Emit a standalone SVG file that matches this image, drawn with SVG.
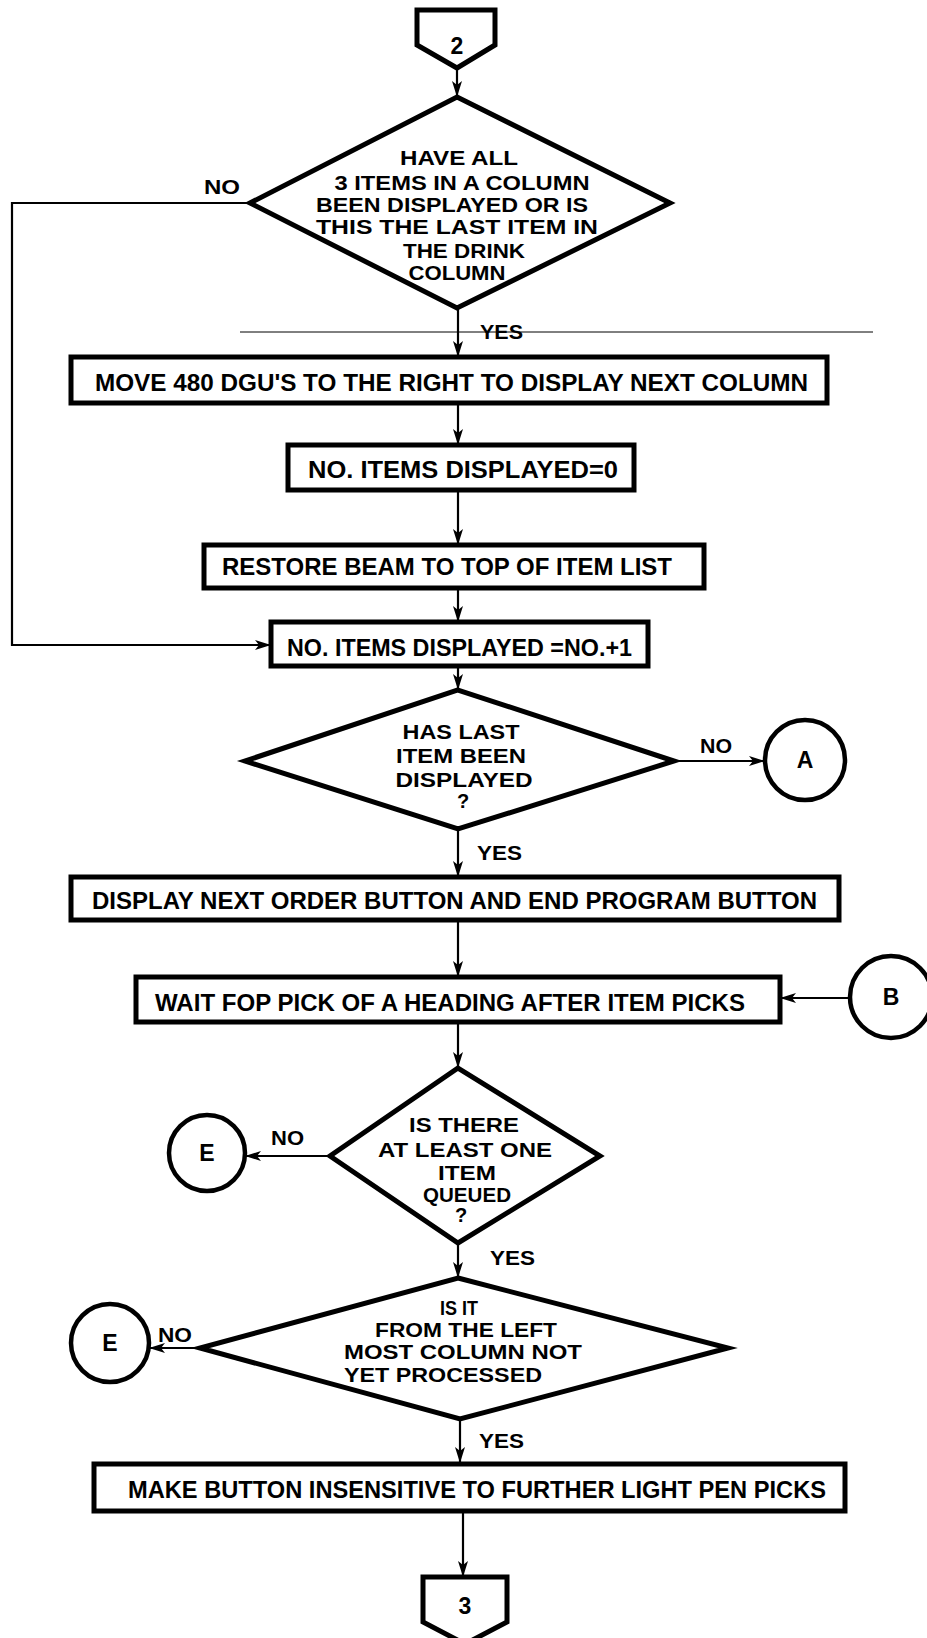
<svg xmlns="http://www.w3.org/2000/svg" width="927" height="1638" viewBox="0 0 927 1638">
<defs>
<style>
.box{fill:#fff;stroke:#000;stroke-width:5}
.dia{fill:#fff;stroke:#000;stroke-width:5;stroke-linejoin:miter}
.circ{fill:#fff;stroke:#000;stroke-width:4.5}
.con{fill:none;stroke:#000;stroke-width:2.2}
.t{font-family:"Liberation Sans",Arial,sans-serif;font-weight:bold;font-size:23px;fill:#000}
.d{font-family:"Liberation Sans",Arial,sans-serif;font-weight:bold;font-size:20px;fill:#000;text-anchor:middle}
.c{font-family:"Liberation Sans",Arial,sans-serif;font-weight:bold;font-size:23px;fill:#000;text-anchor:middle}
.lbl{font-family:"Liberation Sans",Arial,sans-serif;font-weight:bold;font-size:20px;fill:#000}
</style>
<marker id="ah" viewBox="0 0 16 10" refX="15" refY="5" markerWidth="16" markerHeight="10" markerUnits="userSpaceOnUse" orient="auto">
<path d="M0,0 L16,5 L0,10 L4,5 z" fill="#000"/>
</marker>
</defs>

<g id="connectors">
<line class="con" x1="457" y1="68" x2="457" y2="96" marker-end="url(#ah)"/>
<line class="con" x1="458" y1="308" x2="458" y2="356" marker-end="url(#ah)"/>
<line class="con" x1="458" y1="403" x2="458" y2="444" marker-end="url(#ah)"/>
<line class="con" x1="458" y1="490" x2="458" y2="544" marker-end="url(#ah)"/>
<line class="con" x1="458" y1="588" x2="458" y2="621" marker-end="url(#ah)"/>
<path class="con" d="M250,203 H12 V645 H270" marker-end="url(#ah)"/>
<line class="con" x1="458" y1="666" x2="458" y2="689" marker-end="url(#ah)"/>
<line class="con" x1="674" y1="761" x2="764" y2="761" marker-end="url(#ah)"/>
<line class="con" x1="458" y1="829" x2="458" y2="876" marker-end="url(#ah)"/>
<line class="con" x1="458" y1="920" x2="458" y2="976" marker-end="url(#ah)"/>
<line class="con" x1="850" y1="998" x2="781" y2="998" marker-end="url(#ah)"/>
<line class="con" x1="458" y1="1022" x2="458" y2="1067" marker-end="url(#ah)"/>
<line class="con" x1="330" y1="1156" x2="246" y2="1156" marker-end="url(#ah)"/>
<line class="con" x1="458" y1="1243" x2="458" y2="1277" marker-end="url(#ah)"/>
<line class="con" x1="200" y1="1348" x2="150" y2="1348" marker-end="url(#ah)"/>
<line class="con" x1="460" y1="1419" x2="460" y2="1462" marker-end="url(#ah)"/>
<line class="con" x1="463" y1="1512" x2="463" y2="1576" marker-end="url(#ah)"/>
<line x1="240" y1="332" x2="873" y2="332" stroke="#000" stroke-width="1"/>
<text class="lbl" x="204" y="194" textLength="36" lengthAdjust="spacingAndGlyphs">NO</text>
<text class="lbl" x="480" y="339" textLength="43" lengthAdjust="spacingAndGlyphs">YES</text>
<text class="lbl" x="700" y="753" textLength="32" lengthAdjust="spacingAndGlyphs">NO</text>
<text class="lbl" x="477" y="860" textLength="45" lengthAdjust="spacingAndGlyphs">YES</text>
<text class="lbl" x="271" y="1145" textLength="33" lengthAdjust="spacingAndGlyphs">NO</text>
<text class="lbl" x="490" y="1265" textLength="45" lengthAdjust="spacingAndGlyphs">YES</text>
<text class="lbl" x="158" y="1342" textLength="34" lengthAdjust="spacingAndGlyphs">NO</text>
<text class="lbl" x="479" y="1448" textLength="45" lengthAdjust="spacingAndGlyphs">YES</text>
</g>

<g id="conn2">
<path class="box" d="M417,10 H495 V45 L457,68 L417,45 Z"/>
<text class="c" x="457" y="54">2</text>
</g>

<g id="dec1">
<polygon class="dia" points="457,97 670,203 457,308 250,203"/>
<text class="d" x="459" y="165" textLength="118" lengthAdjust="spacingAndGlyphs">HAVE ALL</text>
<text class="d" x="462" y="190" textLength="255" lengthAdjust="spacingAndGlyphs">3 ITEMS IN A COLUMN</text>
<text class="d" x="452" y="212" textLength="272" lengthAdjust="spacingAndGlyphs">BEEN DISPLAYED OR IS</text>
<text class="d" x="457" y="234" textLength="282" lengthAdjust="spacingAndGlyphs">THIS THE LAST ITEM IN</text>
<text class="d" x="464" y="258" textLength="122" lengthAdjust="spacingAndGlyphs">THE DRINK</text>
<text class="d" x="457" y="280" textLength="97" lengthAdjust="spacingAndGlyphs">COLUMN</text>
</g>

<g id="box1">
<rect class="box" x="71" y="357" width="756" height="46"/>
<text class="t" x="95" y="391" textLength="713" lengthAdjust="spacingAndGlyphs">MOVE 480 DGU'S  TO THE RIGHT TO DISPLAY NEXT COLUMN</text>
</g>

<g id="box2">
<rect class="box" x="288" y="445" width="346" height="45"/>
<text class="t" x="308" y="478" textLength="310" lengthAdjust="spacingAndGlyphs">NO. ITEMS DISPLAYED=0</text>
</g>

<g id="box3">
<rect class="box" x="204" y="545" width="500" height="43"/>
<text class="t" x="222" y="575" textLength="450" lengthAdjust="spacingAndGlyphs">RESTORE BEAM  TO TOP OF ITEM LIST</text>
</g>

<g id="box4">
<rect class="box" x="271" y="622" width="377" height="44"/>
<text class="t" x="287" y="656" textLength="345" lengthAdjust="spacingAndGlyphs">NO. ITEMS DISPLAYED =NO.+1</text>
</g>

<g id="dec2">
<polygon class="dia" points="458,690 674,761 458,829 245,761"/>
<text class="d" x="461" y="739" textLength="117" lengthAdjust="spacingAndGlyphs">HAS LAST</text>
<text class="d" x="461" y="763" textLength="130" lengthAdjust="spacingAndGlyphs">ITEM BEEN</text>
<text class="d" x="464" y="787" textLength="137" lengthAdjust="spacingAndGlyphs">DISPLAYED</text>
<text class="d" x="463" y="808">?</text>
</g>

<g id="circA">
<circle class="circ" cx="805" cy="760" r="40"/>
<text class="c" x="805" y="768">A</text>
</g>

<g id="box5">
<rect class="box" x="71" y="877" width="768" height="43"/>
<text class="t" x="92" y="909" textLength="725" lengthAdjust="spacingAndGlyphs">DISPLAY NEXT ORDER  BUTTON AND END PROGRAM BUTTON</text>
</g>

<g id="box6">
<rect class="box" x="136" y="977" width="644" height="45"/>
<text class="t" x="155" y="1011" textLength="590" lengthAdjust="spacingAndGlyphs">WAIT  FOP PICK OF  A HEADING AFTER ITEM PICKS</text>
</g>

<g id="circB">
<circle class="circ" cx="891" cy="997" r="41"/>
<text class="c" x="891" y="1005">B</text>
</g>

<g id="dec3">
<polygon class="dia" points="458,1068 600,1156 458,1243 330,1156"/>
<text class="d" x="464" y="1132" textLength="110" lengthAdjust="spacingAndGlyphs">IS THERE</text>
<text class="d" x="465" y="1157" textLength="174" lengthAdjust="spacingAndGlyphs">AT LEAST ONE</text>
<text class="d" x="467" y="1180" textLength="58" lengthAdjust="spacingAndGlyphs">ITEM</text>
<text class="d" x="467" y="1202" textLength="88" lengthAdjust="spacingAndGlyphs">QUEUED</text>
<text class="d" x="461" y="1222">?</text>
</g>

<g id="circE1">
<circle class="circ" cx="207" cy="1153" r="38"/>
<text class="c" x="207" y="1161">E</text>
</g>

<g id="dec4">
<polygon class="dia" points="458,1278 728,1348 460,1419 200,1348"/>
<text class="d" x="459" y="1315" textLength="38" lengthAdjust="spacingAndGlyphs">IS IT</text>
<text class="d" x="466" y="1337" textLength="182" lengthAdjust="spacingAndGlyphs">FROM THE LEFT</text>
<text class="d" x="463" y="1359" textLength="238" lengthAdjust="spacingAndGlyphs">MOST COLUMN NOT</text>
<text class="d" x="443" y="1382" textLength="198" lengthAdjust="spacingAndGlyphs">YET PROCESSED</text>
</g>

<g id="circE2">
<circle class="circ" cx="110" cy="1343" r="39"/>
<text class="c" x="110" y="1351">E</text>
</g>

<g id="box7">
<rect class="box" x="94" y="1464" width="751" height="47"/>
<text class="t" x="128" y="1498" textLength="698" lengthAdjust="spacingAndGlyphs">MAKE BUTTON INSENSITIVE TO FURTHER LIGHT PEN PICKS</text>
</g>

<g id="conn3">
<path class="box" d="M423,1577 H507 V1622 L465,1644 L423,1622 Z"/>
<text class="c" x="465" y="1614">3</text>
</g>
</svg>
